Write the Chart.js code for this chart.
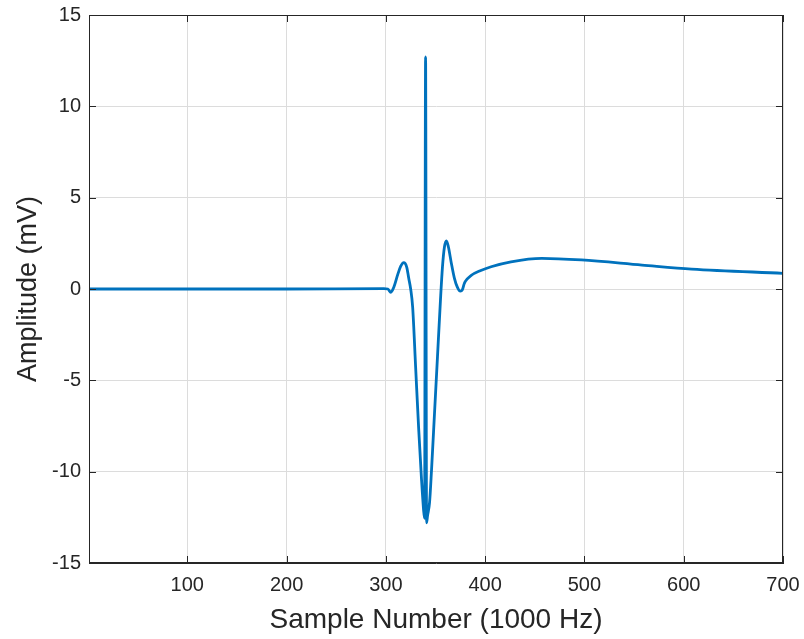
<!DOCTYPE html>
<html>
<head>
<meta charset="utf-8">
<script src="https://cdn.jsdelivr.net/npm/chart.js@4.4.1/dist/chart.umd.min.js"></script>
<style>
  html, body { margin: 0; padding: 0; background: #fff; }
</style>
</head>
<body>
<canvas id="myChart" width="804" height="639"></canvas>
<script>
// samples (sample index, mV)
var samples = [1, 100, 200, 298, 302, 305, 308, 312, 315, 318, 321, 323, 325, 327, 330, 333, 336, 338, 339,
  340, 341, 342, 344, 346, 349, 352, 355, 357, 359, 361, 363, 366, 369, 372, 375, 377, 379, 382, 386, 395,
  406, 426, 457, 497, 558, 608, 700];
var amplitude = [0, 0, 0, 0.02, 0, -0.18, 0.1, 0.8, 1.25, 1.44, 1.2, 0.6, 0, -1, -4.3, -7.6, -10.5, -12.1, -12.55,
  12.7, -12.8, -12.4, -11.7, -9.9, -6.8, -3.7, -0.6, 1.2, 2.3, 2.64, 2.3, 1.4, 0.6, 0.1, -0.12, -0.05, 0.3, 0.55, 0.75, 1.0,
  1.22, 1.49, 1.68, 1.59, 1.31, 1.09, 0.86];
var xTicks = [100, 200, 300, 400, 500, 600, 700];
var yTicks = [-15, -10, -5, 0, 5, 10, 15];

var axisColor = '#262626';
var gridColor = '#dcdcdc';

// matlab style box with inward ticks
var boxPlugin = {
  id: 'box',
  afterDraw: function(chart) {
    var c = chart.ctx, a = chart.chartArea;
    var xs = chart.scales.x, ys = chart.scales.y;
    c.save();
    c.strokeStyle = axisColor;
    c.lineWidth = 1;
    c.beginPath();
    xTicks.forEach(function(v) {
      var px = Math.round(xs.getPixelForValue(v)) + 0.5;
      c.moveTo(px, a.bottom); c.lineTo(px, a.bottom - 7);
      c.moveTo(px, a.top); c.lineTo(px, a.top + 7);
    });
    yTicks.forEach(function(v) {
      var py = Math.round(ys.getPixelForValue(v)) + 0.5;
      c.moveTo(a.left, py); c.lineTo(a.left + 7, py);
      c.moveTo(a.right, py); c.lineTo(a.right - 7, py);
    });
    c.stroke();
    c.strokeRect(a.left + 0.5, a.top + 0.5, a.right - a.left - 1, a.bottom - a.top - 1);
    c.restore();
  }
};

var ctx = document.getElementById('myChart');
var myChart = new Chart(ctx, {
  type: 'line',
  data: {
    datasets: [{
      data: samples.map(function(s, i) { return {x: s, y: amplitude[i]}; }),
      borderColor: '#0072BD',
      borderWidth: 2.8,
      pointRadius: 0,
      cubicInterpolationMode: 'monotone',
      fill: false
    }]
  },
  options: {
    responsive: false,
    animation: false,
    devicePixelRatio: 1,
    layout: { padding: { top: 15, right: 21, left: 0, bottom: 0 } },
    plugins: { legend: { display: false }, tooltip: { enabled: false } },
    scales: {
      x: {
        type: 'linear',
        min: 1,
        max: 700,
        afterBuildTicks: function(scale) { scale.ticks = xTicks.map(function(v) { return {value: v}; }); },
        afterFit: function(scale) {
          scale.height = 76;
          scale.paddingLeft = 0;
          scale.paddingRight = 0;
        },
        grid: { color: gridColor, drawTicks: false },
        border: { color: axisColor },
        ticks: { color: axisColor, padding: 10, maxRotation: 0, font: { family: 'Liberation Sans, Arial', size: 20 } },
        title: {
          display: true,
          text: 'Sample Number (1000 Hz)',
          color: axisColor,
          padding: { top: 0, bottom: 2 },
          font: { family: 'Liberation Sans, Arial', size: 28 }
        }
      },
      y: {
        min: -15,
        max: 15,
        afterBuildTicks: function(scale) { scale.ticks = yTicks.map(function(v) { return {value: v}; }); },
        afterFit: function(scale) {
          scale.width = 89;
          scale.paddingTop = 0;
          scale.paddingBottom = 0;
        },
        grid: { color: gridColor, drawTicks: false },
        border: { color: axisColor },
        ticks: { color: axisColor, padding: 8, font: { family: 'Liberation Sans, Arial', size: 20 } },
        title: {
          display: true,
          text: 'Amplitude (mV)',
          color: axisColor,
          padding: { top: 12, bottom: 0 },
          font: { family: 'Liberation Sans, Arial', size: 27 }
        }
      }
    }
  },
  plugins: [boxPlugin]
});
</script>
</body>
</html>
